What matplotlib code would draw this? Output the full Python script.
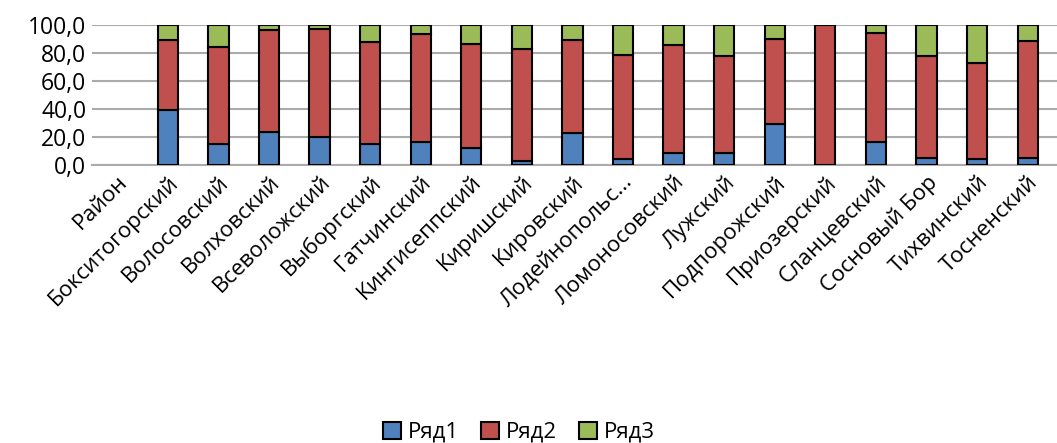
import numpy as np
import matplotlib.pyplot as plt

districts = ["Район", "Бокситогорский", "Волосовский", "Волховский", "Всеволожский",
             "Выборгский", "Гатчинский", "Кингисеппский", "Киришский", "Кировский",
             "Лодейнопольс...", "Ломоносовский", "Лужский", "Подпорожский",
             "Приозерский", "Сланцевский", "Сосновый Бор", "Тихвинский", "Тосненский"]

row1 = [0, 39.5, 14.6, 23.7, 19.8, 15.1, 16.2, 12.2, 2.4, 22.7,
        4.5, 8.3, 8.8, 29.4, 0.0, 16.0, 4.7, 4.5, 4.7]
row2 = [0, 50.2, 69.6, 72.9, 77.3, 72.7, 77.6, 74.7, 80.6, 67.0,
        74.5, 77.8, 69.2, 60.6, 100.0, 78.8, 73.0, 68.1, 84.0]
row3 = [0, 10.3, 15.8, 3.4, 2.9, 12.2, 6.2, 13.1, 17.0, 10.3,
        21.0, 13.9, 22.0, 10.0, 0.0, 5.2, 22.3, 27.4, 11.3]

plt.rcParams['font.family'] = ['Open Sans', 'DejaVu Sans']

fig = plt.figure(figsize=(10.57, 4.43), dpi=100)
ax = fig.add_axes([0.087, 0.628, 0.913, 0.315])

x = np.arange(len(districts))
r1 = np.array(row1)
r2 = np.array(row2)
r3 = np.array(row3)
mask = (r1 + r2 + r3) > 0
w = 0.4
ax.bar(x[mask], r1[mask], w, color="#4F81BD", edgecolor="black", linewidth=1.5, label="Ряд1", zorder=3)
ax.bar(x[mask], r2[mask], w, bottom=r1[mask], color="#C0504D", edgecolor="black", linewidth=1.5, label="Ряд2", zorder=3)
ax.bar(x[mask], r3[mask], w, bottom=(r1 + r2)[mask], color="#9BBB59", edgecolor="black", linewidth=1.5, label="Ряд3", zorder=3)

ax.set_xlim(-0.5, len(districts) - 0.42)
ax.set_ylim(0, 100)
ax.set_yticks(np.arange(0, 101, 20))
ax.set_yticklabels([f"{v:.1f}".replace(".", ",") for v in np.arange(0, 101, 20)], fontsize=16.5)
ax.set_xticks(x)
ax.set_xticklabels(districts, rotation=45, ha="right", rotation_mode="anchor", fontsize=16)
ax.tick_params(axis="x", length=0, pad=5)
ax.tick_params(axis="y", length=0, pad=4)
ax.grid(axis="y", color="#ABABAB", linewidth=1.5, zorder=0)
for s in ["top", "right", "left"]:
    ax.spines[s].set_visible(False)
ax.spines["bottom"].set_color("#ABABAB")
ax.spines["bottom"].set_linewidth(1.5)

fig.legend(loc="lower center", bbox_to_anchor=(0.491, -0.045), ncol=3, frameon=False,
           fontsize=16, handlelength=0.8, handleheight=0.8, handletextpad=0.3, columnspacing=1.0)

fig.savefig("out.png", dpi=100)
